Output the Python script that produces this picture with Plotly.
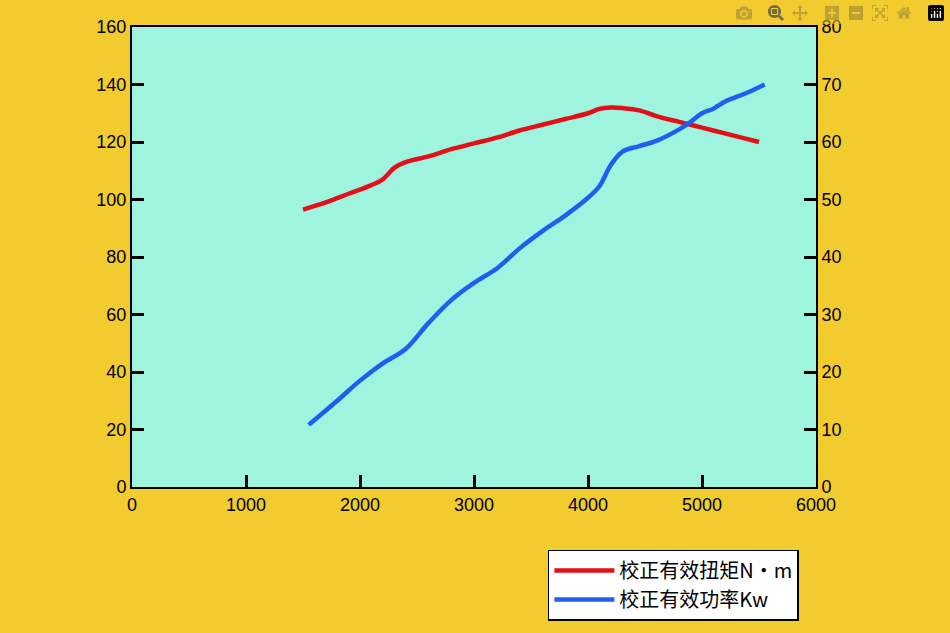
import plotly.graph_objects as go

torque_rpm = [1500, 1700, 1900, 2100, 2200, 2300, 2400, 2600, 2800, 3000, 3200, 3400, 3600, 3800, 4000, 4100, 4200, 4300, 4450, 4600, 4800, 5000, 5200, 5400, 5500]
torque = [96.5, 99, 102, 105, 107, 111, 113, 115, 117.5, 119.5, 121.5, 124, 126, 128, 130, 131.5, 132, 131.8, 131, 129, 127, 125, 123, 121, 120]
power_rpm = [1550, 1800, 2000, 2200, 2400, 2600, 2800, 3000, 3200, 3400, 3600, 3800, 4000, 4100, 4200, 4300, 4450, 4600, 4800, 4900, 5000, 5100, 5200, 5400, 5550]
power = [10.8, 15, 18.5, 21.5, 24, 28.5, 32.5, 35.5, 38, 41.5, 44.5, 47.2, 50.3, 52.3, 56, 58.3, 59.3, 60.2, 62.2, 63.5, 65, 65.8, 67, 68.6, 70]

fig = go.Figure()
fig.add_trace(go.Scatter(x=torque_rpm, y=torque, mode="lines", name="校正有效扭矩N·m",
                         line=dict(color="#e3101a", width=4.5, shape="spline")))
fig.add_trace(go.Scatter(x=power_rpm, y=power, mode="lines", name="校正有效功率Kw", yaxis="y2",
                         line=dict(color="#1f5ff0", width=4.5, shape="spline")))
tickfont = dict(family="Liberation Sans, Arial", size=18, color="black")
ax = dict(showgrid=False, zeroline=False, ticks="inside", ticklen=12, tickwidth=3,
          tickcolor="black", linecolor="black", linewidth=2, tickfont=tickfont)
fig.update_layout(
    width=950, height=633, paper_bgcolor="#f2cb2e", plot_bgcolor="#9ef4df",
    margin=dict(l=132, r=134, t=27, b=115),
    xaxis=dict(range=[0, 6000], dtick=1000, mirror=True, **ax),
    yaxis=dict(range=[0, 160], dtick=20, **ax),
    yaxis2=dict(range=[0, 80], dtick=10, overlaying="y", side="right", **ax),
    legend=dict(x=0.608, y=-0.136, xanchor="left", yanchor="top", bgcolor="white",
                bordercolor="black", borderwidth=1.5, itemwidth=60,
                font=dict(family="Noto Sans CJK SC", size=20, color="black")),
)
fig.write_html("out.html")
with open("out.html", encoding="utf-8") as f:
    html = f.read()
html = html.replace("<head>", "<head><style>html,body{margin:0;padding:0;overflow:hidden;}</style>", 1)
with open("out.html", "w", encoding="utf-8") as f:
    f.write(html)
